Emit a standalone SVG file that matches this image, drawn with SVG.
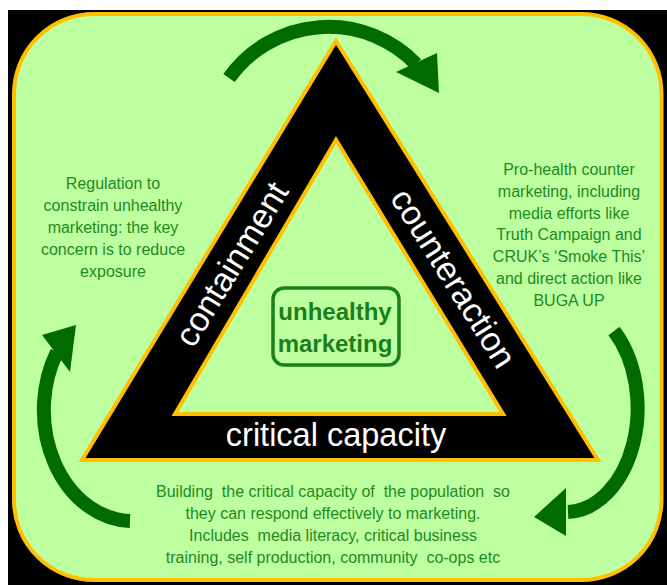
<svg xmlns="http://www.w3.org/2000/svg" width="667" height="585" viewBox="0 0 667 585">
<style>
.desc{font-family:"Liberation Sans",Arial,sans-serif;font-size:16px;fill:#1F8A1F;text-anchor:middle}
.band{font-family:"Liberation Sans",Arial,sans-serif;font-size:34px;fill:#FFFFFF;text-anchor:middle}
.core{font-family:"Liberation Sans",Arial,sans-serif;font-size:24px;font-weight:bold;fill:#1A801A;text-anchor:middle}
.arc{fill:none;stroke:#006C00;stroke-width:14;stroke-linecap:butt}
.head{fill:#006C00}
.edge{stroke:#FFC000;stroke-width:4;stroke-linejoin:miter}
</style>
<rect x="0" y="0" width="667" height="585" fill="#FFFFFF"/>
<rect x="8" y="10" width="659" height="575" fill="#000000"/>
<g id="frame">
<rect x="14" y="14" width="647.5" height="566" rx="80" ry="80" fill="#BEFFA0" stroke="#FFC000" stroke-width="4"/>
</g>
<g id="triangle">
<polygon class="edge" points="336,41 82,460 598,460" fill="#000000"/>
<polygon class="edge" points="336,140 175,414 503,414" fill="#BEFFA0"/>
</g>
<g id="containment">
<text class="band" transform="translate(233,265) rotate(-58.6)" x="0" y="10">containment</text>
</g>
<g id="counteraction">
<text class="band" transform="translate(452,279) rotate(57.8)" x="0" y="10">counteraction</text>
</g>
<g id="critical-capacity">
<text class="band" x="336" y="446" style="font-size:32.5px">critical capacity</text>
</g>
<g id="unhealthy-marketing">
<rect x="273" y="288" width="126" height="77" rx="11" ry="11" fill="none" stroke="#1A801A" stroke-width="3.5"/>
<text class="core" x="335" y="320">unhealthy</text>
<text class="core" x="335" y="352">marketing</text>
</g>
<g id="containment-text">
<text class="desc" x="113" y="189">Regulation to</text>
<text class="desc" x="113" y="211">constrain unhealthy</text>
<text class="desc" x="113" y="233">marketing: the key</text>
<text class="desc" x="113" y="255">concern is to reduce</text>
<text class="desc" x="113" y="277">exposure</text>
</g>
<g id="counteraction-text">
<text class="desc" x="569" y="175">Pro-health counter</text>
<text class="desc" x="569" y="197">marketing, including</text>
<text class="desc" x="569" y="219">media efforts like</text>
<text class="desc" x="569" y="240">Truth Campaign and</text>
<text class="desc" x="569" y="262">CRUK’s ‘Smoke This’</text>
<text class="desc" x="569" y="284">and direct action like</text>
<text class="desc" x="569" y="306">BUGA UP</text>
</g>
<g id="critical-capacity-text">
<text class="desc" x="333" y="497" xml:space="preserve">Building  the critical capacity of  the population  so</text>
<text class="desc" x="333" y="519">they can respond effectively to marketing.</text>
<text class="desc" x="333" y="541" xml:space="preserve">Includes  media literacy, critical business</text>
<text class="desc" x="333" y="563" xml:space="preserve">training, self production, community  co-ops etc</text>
</g>
<g id="connectors">
<path class="arc" d="M229,78 A122,122 0 0 1 416,64"/>
<polygon class="head" points="396,72 437,53 439,93"/>
<path class="arc" d="M614,331 A72,104 0 0 1 568,512"/>
<polygon class="head" points="566,488 534,517 566,536"/>
<path class="arc" d="M130,521 A89,111 0 0 1 57,352"/>
<polygon class="head" points="42,335 76,325 70,372"/>
</g>
</svg>
